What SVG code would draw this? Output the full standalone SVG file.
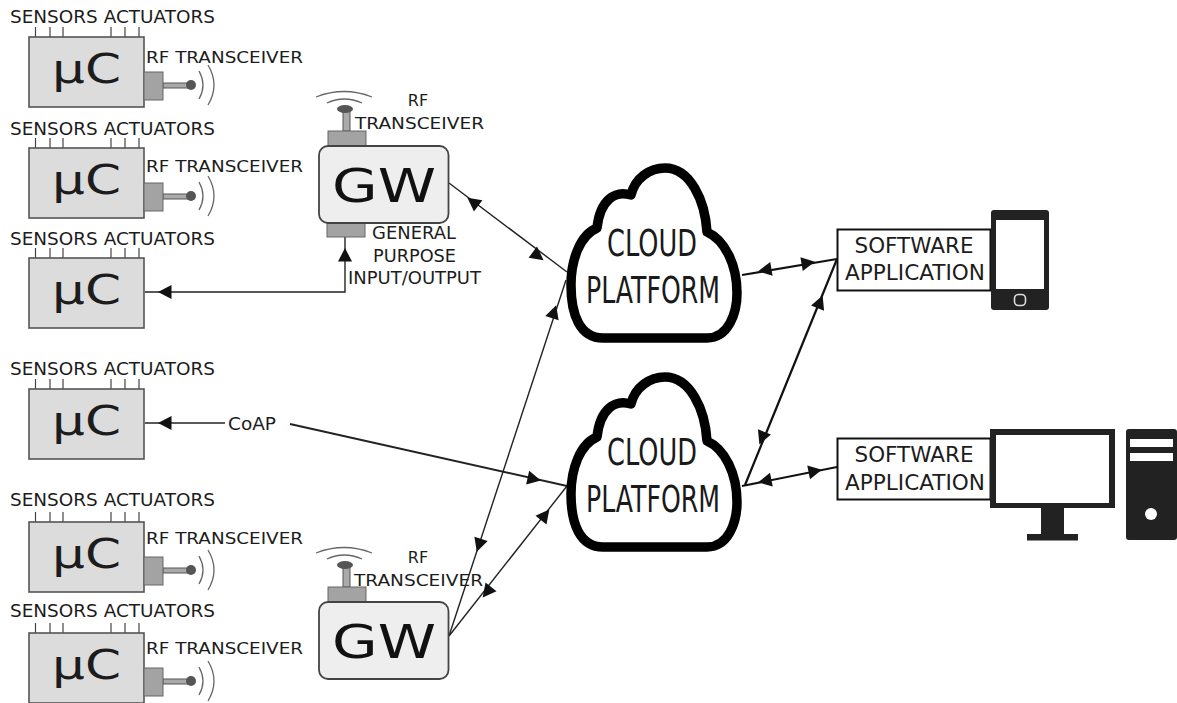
<svg xmlns="http://www.w3.org/2000/svg" xmlns:xlink="http://www.w3.org/1999/xlink" width="1177" height="703" viewBox="0 0 1177 703">
<style>
text{font-family:"DejaVu Sans","Liberation Sans",sans-serif;fill:#1c1c1c;font-size:16px}
.lg{font-size:17px}
.body{fill:#dcdcdc;stroke:#555;stroke-width:1.6}
.pin{stroke:#444;stroke-width:1.2;fill:none}
.blk{fill:#a3a3a3;stroke:#666;stroke-width:1}
.rod{fill:#aaa;stroke:#555;stroke-width:1}
.ant{fill:#555}
.arc{fill:none;stroke:#666;stroke-width:1.3}
.uc{font-size:40px}
.gwbox{fill:#eee;stroke:#444;stroke-width:1.8}
.gwt{font-size:46px;fill:#111}
.cloud{fill:#fff;stroke:#000;stroke-width:9.5;stroke-linejoin:round}
.ct{font-size:38px;fill:#1a1a1a}
.app{fill:#fff;stroke:#111;stroke-width:2}
.at{font-size:20.5px;text-anchor:middle}
.dev{fill:#222}
.scr{fill:#fff}
.ln{fill:none;stroke:#222;stroke-width:1.4}
.ln2{fill:none;stroke:#111;stroke-width:2.2}
.mid{text-anchor:middle}
</style>
<defs>
<polygon id="arrow" points="7,0 -6.500,-7 -6.500,7" fill="#111"/>
<g id="ucshape">
<path class="pin" d="M35.500 27V37M50 27V37M63 27V37M111 27V37M125 27V37M139 27V37"/>
<rect class="body" x="29" y="37" width="115" height="70"/>
</g>
<g id="rf">
<rect class="rod" x="163" y="83" width="25" height="5"/>
<rect class="blk" x="144" y="72" width="19" height="28"/>
<circle class="ant" cx="191" cy="85" r="5"/>
<path class="arc" d="M199 71Q207 85 199 99M208 65Q220 85 208 105"/>
</g>
<g id="gwant">
<path class="arc" d="M316 97Q344 86 372 97M327 103Q344 95 362 103"/>
<rect class="rod" x="343" y="111" width="7" height="20"/>
<ellipse class="ant" cx="345" cy="109" rx="8" ry="4"/>
<rect class="blk" x="328" y="131" width="38" height="15"/>
</g>
<path id="cloudshape" class="cloud" d="M603 338H707C729 338 737 312 737 293C737 265 725 240 707 232C705 200 690 168 665 168C650 168 635 178 631 195C615 190 600 200 597 228C580 235 571 260 571 285C571 315 580 338 603 338Z"/>
</defs>

<g id="connectors">
<path class="ln" d="M145 292H345V236"/>
<use href="#arrow" transform="translate(165 292) rotate(180)"/>
<use href="#arrow" transform="translate(345 255) rotate(-90)"/>
<path class="ln" d="M145 423H225"/>
<use href="#arrow" transform="translate(165 423) rotate(180)"/>
<path class="ln" d="M290 424L567 486" style="stroke-width:1.8"/>
<use href="#arrow" transform="translate(534 479) rotate(12.600)"/>
<path class="ln" d="M449 183L567 272"/>
<use href="#arrow" transform="translate(473 202) rotate(217)"/>
<use href="#arrow" transform="translate(538 256) rotate(37)"/>
<path class="ln" d="M449 636L566 280"/>
<use href="#arrow" transform="translate(554 312) rotate(-71.700)"/>
<use href="#arrow" transform="translate(479 545) rotate(108.300)"/>
<path class="ln" d="M449 636L567 486"/>
<use href="#arrow" transform="translate(487 592) rotate(128.200)"/>
<use href="#arrow" transform="translate(545 515) rotate(-51.800)"/>
<path class="ln2" d="M742 275L837 259"/>
<use href="#arrow" transform="translate(765 270) rotate(170.400)"/>
<use href="#arrow" transform="translate(808 263) rotate(-9.600)"/>
<path class="ln2" d="M837 259L745 485"/>
<use href="#arrow" transform="translate(820 302) rotate(-67.900)"/>
<use href="#arrow" transform="translate(762 438) rotate(112.100)"/>
<path class="ln2" d="M742 486L837 467"/>
<use href="#arrow" transform="translate(765 481) rotate(168.700)"/>
<use href="#arrow" transform="translate(815 471) rotate(-11.300)"/>
</g>

<g id="uc1">
<use href="#ucshape"/><use href="#rf"/>
<text class="lg" x="10" y="23" textLength="205" lengthAdjust="spacingAndGlyphs">SENSORS ACTUATORS</text>
<text class="uc" x="52" y="83" textLength="69" lengthAdjust="spacingAndGlyphs">µC</text>
<text x="146" y="63" textLength="157" lengthAdjust="spacingAndGlyphs">RF TRANSCEIVER</text>
</g>
<g id="uc2">
<use href="#ucshape" y="111"/><use href="#rf" y="111"/>
<text class="lg" x="10" y="135" textLength="205" lengthAdjust="spacingAndGlyphs">SENSORS ACTUATORS</text>
<text class="uc" x="52" y="194" textLength="69" lengthAdjust="spacingAndGlyphs">µC</text>
<text x="146" y="172" textLength="157" lengthAdjust="spacingAndGlyphs">RF TRANSCEIVER</text>
</g>
<g id="uc3">
<use href="#ucshape" y="221"/>
<text class="lg" x="10" y="245" textLength="205" lengthAdjust="spacingAndGlyphs">SENSORS ACTUATORS</text>
<text class="uc" x="52" y="304" textLength="69" lengthAdjust="spacingAndGlyphs">µC</text>
</g>
<g id="uc4">
<use href="#ucshape" y="352"/>
<text class="lg" x="10" y="375" textLength="205" lengthAdjust="spacingAndGlyphs">SENSORS ACTUATORS</text>
<text class="uc" x="52" y="435" textLength="69" lengthAdjust="spacingAndGlyphs">µC</text>
</g>
<g id="coap"><text class="lg" x="228" y="430" textLength="48" lengthAdjust="spacingAndGlyphs">CoAP</text></g>
<g id="uc5">
<use href="#ucshape" y="485"/><use href="#rf" y="485"/>
<text class="lg" x="10" y="506" textLength="205" lengthAdjust="spacingAndGlyphs">SENSORS ACTUATORS</text>
<text class="uc" x="52" y="568" textLength="69" lengthAdjust="spacingAndGlyphs">µC</text>
<text x="146" y="544" textLength="157" lengthAdjust="spacingAndGlyphs">RF TRANSCEIVER</text>
</g>
<g id="uc6">
<use href="#ucshape" y="596"/><use href="#rf" y="596"/>
<text class="lg" x="10" y="617" textLength="205" lengthAdjust="spacingAndGlyphs">SENSORS ACTUATORS</text>
<text class="uc" x="52" y="679" textLength="69" lengthAdjust="spacingAndGlyphs">µC</text>
<text x="146" y="654" textLength="157" lengthAdjust="spacingAndGlyphs">RF TRANSCEIVER</text>
</g>

<g id="gw1">
<use href="#gwant"/>
<rect class="blk" x="327" y="223" width="38" height="14"/>
<rect class="gwbox" x="319" y="146" width="129.500" height="77" rx="9"/>
<text class="gwt" x="332" y="202" textLength="104" lengthAdjust="spacingAndGlyphs">GW</text>
<text class="mid" x="418" y="106">RF</text>
<text x="355" y="129" textLength="129" lengthAdjust="spacingAndGlyphs">TRANSCEIVER</text>
<text class="lg" x="372" y="239" textLength="84" lengthAdjust="spacingAndGlyphs">GENERAL</text>
<text class="lg" x="373" y="262" textLength="83" lengthAdjust="spacingAndGlyphs">PURPOSE</text>
<text class="lg" x="348" y="284" textLength="133" lengthAdjust="spacingAndGlyphs">INPUT/OUTPUT</text>
</g>
<g id="gw2">
<use href="#gwant" y="456"/>
<rect class="gwbox" x="319" y="602" width="129.500" height="77" rx="9"/>
<text class="gwt" x="332" y="658" textLength="104" lengthAdjust="spacingAndGlyphs">GW</text>
<text class="mid" x="418" y="563">RF</text>
<text x="354" y="586" textLength="129" lengthAdjust="spacingAndGlyphs">TRANSCEIVER</text>
</g>

<g id="cloud1">
<use href="#cloudshape"/>
<text class="ct" x="607" y="256" textLength="90" lengthAdjust="spacingAndGlyphs">CLOUD</text>
<text class="ct" x="586" y="303" textLength="134" lengthAdjust="spacingAndGlyphs">PLATFORM</text>
</g>
<g id="cloud2">
<use href="#cloudshape" y="209"/>
<text class="ct" x="607" y="465" textLength="90" lengthAdjust="spacingAndGlyphs">CLOUD</text>
<text class="ct" x="586" y="512" textLength="134" lengthAdjust="spacingAndGlyphs">PLATFORM</text>
</g>

<g id="app1">
<rect class="app" x="837.500" y="229.500" width="153" height="61"/>
<text class="at" x="914" y="253" textLength="119" lengthAdjust="spacingAndGlyphs">SOFTWARE</text>
<text class="at" x="915" y="280" textLength="140" lengthAdjust="spacingAndGlyphs">APPLICATION</text>
</g>
<g id="app2">
<rect class="app" x="837.500" y="438.500" width="153" height="61"/>
<text class="at" x="914" y="462" textLength="119" lengthAdjust="spacingAndGlyphs">SOFTWARE</text>
<text class="at" x="915" y="490" textLength="140" lengthAdjust="spacingAndGlyphs">APPLICATION</text>
</g>

<g id="phone">
<rect class="dev" x="991" y="210" width="58" height="100" rx="3"/>
<rect class="scr" x="996" y="220" width="48" height="69"/>
<rect x="1014.500" y="294.500" width="11" height="11" rx="4" fill="none" stroke="#ddd" stroke-width="1.600"/>
</g>
<g id="computer">
<rect class="dev" x="990" y="429" width="125" height="79"/>
<rect class="scr" x="996" y="435" width="113" height="68"/>
<rect class="dev" x="1041" y="508" width="23" height="26"/>
<rect class="dev" x="1027" y="534" width="51" height="6.500"/>
<rect class="dev" x="1126" y="429" width="51" height="111" rx="3"/>
<rect class="scr" x="1130" y="439" width="43" height="8"/>
<rect class="scr" x="1130" y="453" width="43" height="8"/>
<circle class="scr" cx="1151" cy="514" r="6"/>
</g>
</svg>
